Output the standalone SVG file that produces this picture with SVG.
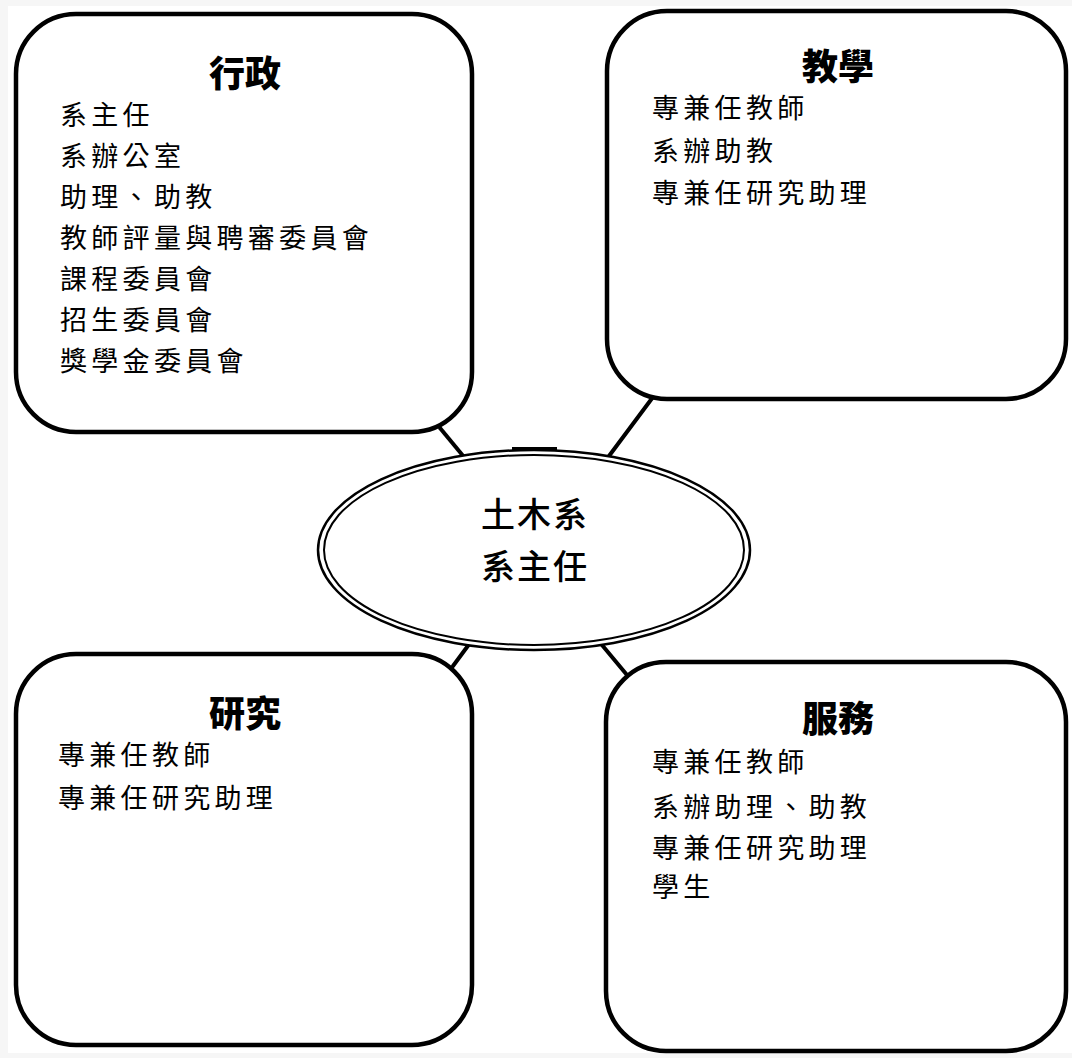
<svg xmlns="http://www.w3.org/2000/svg" width="1072" height="1058" viewBox="0 0 1072 1058">
<style>
.box{fill:#fff;stroke:#000;stroke-width:4.5}
.conn{stroke:#000;stroke-width:4;fill:none;stroke-linecap:round}
.title{font-family:"Noto Sans CJK TC","Noto Sans CJK SC",sans-serif;font-weight:900;font-size:36px;text-anchor:middle;fill:#000}
.body{font-family:"Noto Sans CJK TC","Noto Sans CJK SC",sans-serif;font-size:27px;letter-spacing:4.3px;fill:#000}
.center{font-family:"Noto Sans CJK TC","Noto Sans CJK SC",sans-serif;font-weight:500;font-size:34px;letter-spacing:2px;text-anchor:middle;fill:#000}
</style>
<rect x="0" y="0" width="1072" height="1058" fill="#f6f6f6"/>
<rect x="8" y="6" width="1064" height="1047" fill="#fff"/>
<g id="connectors">
<line class="conn" x1="440" y1="428" x2="464" y2="457"/>
<line class="conn" x1="653" y1="397" x2="609" y2="456"/>
<line class="conn" x1="470" y1="643" x2="453" y2="666"/>
<line class="conn" x1="602" y1="645" x2="627" y2="675"/>
</g>
<g id="node-admin">
<rect class="box" x="16" y="14" width="456" height="418" rx="60" ry="60"/>
<text class="title" x="245" y="87">行政</text>
<text class="body" x="60" y="125">系主任</text>
<text class="body" x="60" y="166">系辦公室</text>
<text class="body" x="60" y="207">助理、助教</text>
<text class="body" x="60" y="248">教師評量與聘審委員會</text>
<text class="body" x="60" y="289">課程委員會</text>
<text class="body" x="60" y="330">招生委員會</text>
<text class="body" x="60" y="371">獎學金委員會</text>
</g>
<g id="node-teaching">
<rect class="box" x="607" y="11" width="459" height="388" rx="60" ry="60"/>
<text class="title" x="838" y="80">教學</text>
<text class="body" x="652" y="118">專兼任教師</text>
<text class="body" x="652" y="161">系辦助教</text>
<text class="body" x="652" y="203">專兼任研究助理</text>
</g>
<g id="node-research">
<rect class="box" x="16" y="654" width="456" height="391" rx="60" ry="60"/>
<text class="title" x="245" y="727">研究</text>
<text class="body" x="58" y="765">專兼任教師</text>
<text class="body" x="58" y="808">專兼任研究助理</text>
</g>
<g id="node-service">
<rect class="box" x="606" y="662" width="460" height="389" rx="60" ry="60"/>
<text class="title" x="838" y="732">服務</text>
<text class="body" x="652" y="772">專兼任教師</text>
<text class="body" x="652" y="817">系辦助理、助教</text>
<text class="body" x="652" y="858">專兼任研究助理</text>
<text class="body" x="652" y="897">學生</text>
</g>
<g id="node-center">
<ellipse cx="534" cy="550" rx="216" ry="100" fill="#fff" stroke="#000" stroke-width="2.5"/>
<ellipse cx="534" cy="550" rx="210" ry="95" fill="none" stroke="#000" stroke-width="2"/>
<line x1="512" y1="449" x2="557" y2="449" stroke="#000" stroke-width="4"/>
<text class="center" x="535" y="527">土木系</text>
<text class="center" x="535" y="579">系主任</text>
</g>
</svg>
